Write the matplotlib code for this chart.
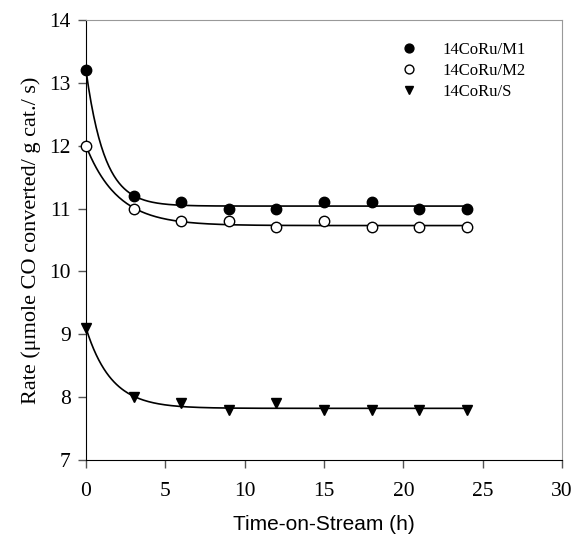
import numpy as np
import matplotlib
matplotlib.use("Agg")
import matplotlib.pyplot as plt

# data
time_h = [0, 3, 6, 9, 12, 15, 18, 21, 24]
rate_m1 = [13.2, 11.2, 11.1, 11.0, 11.0, 11.1, 11.1, 11.0, 11.0]
rate_m2 = [12.0, 11.0, 10.8, 10.8, 10.7, 10.8, 10.7, 10.7, 10.7]
rate_s = [9.1, 8.0, 7.9, 7.8, 7.9, 7.8, 7.8, 7.8, 7.8]
labels = ["14CoRu/M1", "14CoRu/M2", "14CoRu/S"]


# exponential decay fit  y = a + b*exp(-t/tau), tau by grid search
def fit_decay(t, y):
    t = np.asarray(t, float)
    y = np.asarray(y, float)
    best = None
    for tau in np.linspace(0.3, 10, 400):
        A = np.column_stack([np.ones_like(t), np.exp(-t / tau)])
        coef, *_ = np.linalg.lstsq(A, y, rcond=None)
        err = np.sum((A @ coef - y) ** 2)
        if best is None or err < best[0]:
            best = (err, coef, tau)
    _, (a, b), tau = best
    tt = np.linspace(t.min(), t.max(), 300)
    return tt, a + b * np.exp(-tt / tau)


serif = ["Liberation Serif", "DejaVu Serif"]
sans = ["Liberation Sans", "DejaVu Sans"]

fig = plt.figure(figsize=(5.78, 5.38), dpi=100)
ax = fig.add_axes([0.1488, 0.145, 0.8235, 0.8178])

styles = [dict(marker="o", mfc="black", mec="black"),
          dict(marker="o", mfc="white", mec="black"),
          dict(marker="v", mfc="black", mec="black")]

for y, lab, st in zip([rate_m1, rate_m2, rate_s], labels, styles):
    tt, yy = fit_decay(time_h, y)
    ax.plot(tt, yy, color="black", lw=1.2, zorder=2)
    ax.plot(time_h, y, ls="none", ms=7.5, mew=1.0, label=lab, zorder=3,
            clip_on=False, **st)

ax.set_xlim(0, 30)
ax.set_ylim(7, 14)
ax.set_xticks(range(0, 31, 5))
ax.set_yticks(range(7, 15))

for side in ["top", "right"]:
    ax.spines[side].set_color("#999999")
for side in ["left", "bottom"]:
    ax.spines[side].set_color("black")
ax.tick_params(direction="out", length=6, width=1, colors="#555555",
               labelcolor="black")
ax.tick_params(axis="x", pad=10)
ax.tick_params(axis="y", pad=5)

for lbl in ax.get_xticklabels() + ax.get_yticklabels():
    lbl.set_family(serif)
    lbl.set_fontsize(15.5)

ax.set_xlabel("Time-on-Stream (h)", family=sans, fontsize=15, labelpad=10)
ax.set_ylabel("Rate (\u03bcmole CO converted/ g cat./ s)", family=serif,
              fontsize=16, labelpad=6)

leg = ax.legend(loc="upper right", frameon=False, prop={"family": serif, "size": 12},
                bbox_to_anchor=(0.955, 0.985), handletextpad=1.3, labelspacing=0.3,
                handlelength=1.4, markerscale=0.85)

fig.savefig("out.png", dpi=100)
